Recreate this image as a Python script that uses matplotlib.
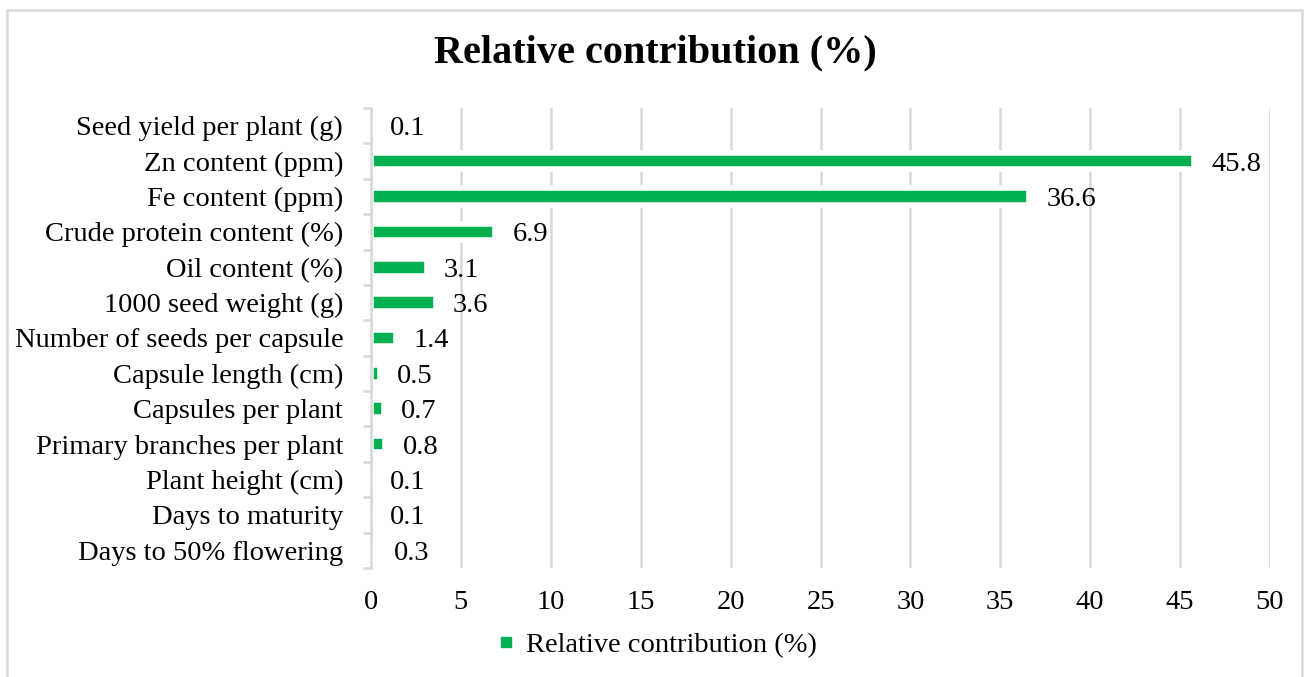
import matplotlib.pyplot as plt
from matplotlib.lines import Line2D
from matplotlib.patches import Rectangle

plt.rcParams['font.family'] = ['Liberation Serif', 'DejaVu Serif']

# traits, top to bottom as in the chart
traits = ["Seed yield per plant (g)", "Zn content (ppm)", "Fe content (ppm)",
          "Crude protein content (%)", "Oil content (%)", "1000 seed weight (g)",
          "Number of seeds per capsule", "Capsule length (cm)", "Capsules per plant",
          "Primary branches per plant", "Plant height (cm)", "Days to maturity",
          "Days to 50% flowering"]
contrib = [0.1, 45.8, 36.6, 6.9, 3.1, 3.6, 1.4, 0.5, 0.7, 0.8, 0.1, 0.1, 0.3]
xticks = [0, 5, 10, 15, 20, 25, 30, 35, 40, 45, 50]

green = '#00B050'
grid_col = '#D9D9D9'
fs = 20.5

fig = plt.figure(figsize=(13.05, 6.77), dpi=100)
ax = fig.add_axes([371/1305, 1-568/677, (1270-371)/1305, (568-108)/677])

ypos = list(range(len(traits)))
ax.barh(ypos, contrib, height=0.47, color=green, edgecolor='white', linewidth=4, zorder=3)
for y, v in zip(ypos, contrib):
    ax.annotate(f"{v}", (v, y), xytext=(12.5, 0), textcoords='offset points',
                ha='left', va='center_baseline', fontsize=fs, zorder=4)

ax.set_ylim(len(traits)-0.5, -0.5)
ax.set_xlim(0, 50)
ax.set_xticks(xticks)
ax.set_yticks(ypos)
ax.set_yticklabels(traits, va='center_baseline')
ax.set_yticks([i-0.5 for i in range(len(traits)+1)], minor=True)
ax.tick_params(axis='y', which='major', length=0, pad=20, labelsize=fs)
ax.tick_params(axis='y', which='minor', length=5.5, width=1.8, color=grid_col)
ax.tick_params(axis='x', length=0, pad=16, labelsize=fs)

ax.grid(axis='x', color=grid_col, linewidth=1.8, zorder=0)
ax.set_axisbelow(True)
for s in ['top', 'right', 'bottom']:
    ax.spines[s].set_visible(False)
ax.spines['left'].set_color(grid_col)
ax.spines['left'].set_linewidth(1.8)
ax.spines['left'].set_zorder(5)

fig.text(655/1305, 1-53/677, "Relative contribution (%)", ha='center', va='center',
         fontsize=29, fontweight='bold')

handle = Line2D([], [], marker='s', color=green, linestyle='none', markersize=6.5)
fig.legend([handle], ["Relative contribution (%)"], loc='center',
           bbox_to_anchor=(657/1305, 1-645/677), frameon=False, fontsize=fs,
           handlelength=0.6, handletextpad=0.4)

fig.add_artist(Rectangle((7/1305, -0.05), (1302-7)/1305, 1.05-10/677,
                         transform=fig.transFigure, fill=False,
                         edgecolor=grid_col, linewidth=1.8))

plt.savefig("out.png", dpi=100)
